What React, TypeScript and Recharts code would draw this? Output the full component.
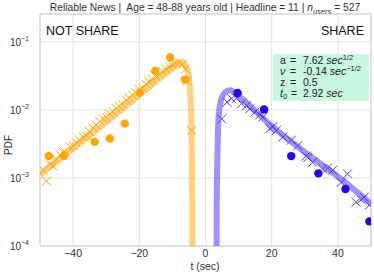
import {
  CartesianGrid,
  ComposedChart,
  Customized,
  Line,
  ReferenceArea,
  Scatter,
  XAxis,
  YAxis,
} from 'recharts'

// readings taken off the reference plot (log-scale PDF vs t in sec)
const notShareCrossT = [
  -49, -48, -47, -46, -45, -44, -43, -42, -41, -40, -39, -38, -37, -36, -35, -34, -33, -32, -31, -30,
  -29, -28, -27, -26, -25, -24, -23, -22, -21, -20, -19, -18, -17, -16, -15, -14, -13, -12, -11, -10,
  -9, -8, -7, -6, -5.5, -4.2,
]
const notShareCrossP = [
  0.0013, 0.0009, 0.0016, 0.0015, 0.0019, 0.0022, 0.0024, 0.0023, 0.0029, 0.003, 0.0033, 0.0036,
  0.004, 0.0042, 0.0048, 0.0055, 0.006, 0.0068, 0.0075, 0.0078, 0.0088, 0.0095, 0.0105, 0.0115,
  0.012, 0.014, 0.015, 0.0165, 0.018, 0.02, 0.021, 0.024, 0.026, 0.028, 0.031, 0.033, 0.037, 0.04,
  0.043, 0.046, 0.049, 0.05, 0.047, 0.04, 0.027, 0.005,
]
const notShareDotT = [-47.3, -42.8, -33.5, -28.9, -24.4, -19.9, -15.2, -10.7, -6.2]
const notShareDotP = [0.0021, 0.0021, 0.0034, 0.0038, 0.0063, 0.018, 0.0376, 0.059, 0.028]
const notShareFitT = [-50, -40, -30, -20, -10, -8, -7, -6, -5.2, -4.6, -4.3, -4.1, -4.0, -3.95]
const notShareFitP = [
  0.00112, 0.0027, 0.0066, 0.0165, 0.041, 0.048, 0.049, 0.045, 0.034, 0.018, 0.008, 0.002, 0.0005,
  0.00005,
]

const shareCrossT = [
  4.9, 6.5, 7.9, 9.4, 10.9, 12.4, 13.4, 14.9, 16.4, 17.4, 19.4, 20.4, 21.4, 23.4, 25.9, 27.9, 30.4,
  30.9, 32.4, 35.4, 36.9, 38.4, 41, 42.9, 45.5, 47, 48, 49.5,
]
const shareCrossP = [
  0.0074, 0.013, 0.0147, 0.015, 0.0124, 0.0115, 0.0104, 0.0093, 0.0085, 0.0079, 0.0053, 0.0057,
  0.005, 0.004, 0.0036, 0.003, 0.0021, 0.002, 0.0017, 0.00136, 0.0014, 0.0013, 0.00086, 0.00115,
  0.00044, 0.00048, 0.00052, 0.0004,
]
const shareDotT = [9.7, 17.7, 25.9, 34.1, 42.3, 49.5]
const shareDotP = [0.0178, 0.0102, 0.0021, 0.00117, 0.00069, 0.00023]
const shareFitT = [3.35, 3.4, 3.6, 3.85, 4.4, 5.3, 6.5, 7.5, 10, 20, 30, 40, 50]
const shareFitP = [
  0.00005, 0.0005, 0.002, 0.0063, 0.012, 0.0165, 0.019, 0.0195, 0.016, 0.0058, 0.0024, 0.00105,
  0.00042,
]

const xTicks = [-40, -20, 0, 20, 40]
const yTicks = [0.0001, 0.001, 0.01, 0.1]

const zip = (t: number[], p: number[]) => t.map((x, i) => ({ x, y: p[i] }))

const FONT = '"Liberation Sans", Arial, sans-serif'
const ORANGE = '#ffa500'
const BLUE = '#2a00f2'
const VIOLET = '#5236ff'

const cross = (color: string) => (props: any) => {
  const { cx, cy } = props
  const s = 4.5
  return (
    <path
      d={`M${cx - s},${cy - s}L${cx + s},${cy + s}M${cx - s},${cy + s}L${cx + s},${cy - s}`}
      stroke={color}
      strokeWidth={1}
      fill="none"
    />
  )
}
const dot = (color: string) => (props: any) => <circle cx={props.cx} cy={props.cy} r={4.2} fill={color} />

const YTick = (props: any) => {
  const { x, y, payload } = props
  const exp = Math.round(Math.log10(payload.value))
  return (
    <text x={x - 3} y={y + 4} textAnchor="end" fontSize={10} fill="#333" fontFamily={FONT}>
      10
      <tspan dy={-5} fontSize={7}>{`\u2212${-exp}`}</tspan>
    </text>
  )
}

const XTick = (props: any) => {
  const { x, y, payload } = props
  const v = payload.value
  return (
    <text x={x} y={y + 3} textAnchor="middle" fontSize={10.5} fill="#333" fontFamily={FONT}>
      {v < 0 ? `\u2212${-v}` : `${v}`}
    </text>
  )
}

const Annotations = () => (
  <g fontFamily={FONT}>
    <text x={205} y={11} textAnchor="middle" fontSize={10.3} fill="#333" style={{ whiteSpace: 'pre' }}>
      {'Reliable News |  Age = 48-88 years old | Headline = 11 | '}
      <tspan fontStyle="italic">n</tspan>
      <tspan fontStyle="italic" fontSize={7.5} dy={2.5}>users</tspan>
      <tspan dy={-2.5}> = 527</tspan>
    </text>
    <text x={46} y={35} fontSize={12.5} fill="#111">NOT SHARE</text>
    <text x={364} y={35} textAnchor="end" fontSize={12.5} fill="#111">SHARE</text>
    <text x={12} y={145} fontSize={10} fill="#333" textAnchor="middle" transform="rotate(-90 12 145)">
      PDF
    </text>
    <text x={205} y={270} fontSize={10.5} fill="#333" textAnchor="middle">t (sec)</text>
    <rect x={273} y={54} width={96} height={47} fill="#c8f7e2" />
    <g fontSize={10.5} fill="#222">
      <text x={280} y={64}>a</text>
      <text x={290} y={64}>=</text>
      <text x={303} y={64}>
        7.62 <tspan fontStyle="italic">sec</tspan>
        <tspan fontSize={7.5} dy={-4}>1/2</tspan>
      </text>
      <text x={280} y={75} fontStyle="italic">ν</text>
      <text x={290} y={75}>=</text>
      <text x={303} y={75}>
        -0.14 <tspan fontStyle="italic">sec</tspan>
        <tspan fontSize={7.5} dy={-4}>−1/2</tspan>
      </text>
      <text x={280} y={86}>z</text>
      <text x={290} y={86}>=</text>
      <text x={303} y={86}>0.5</text>
      <text x={280} y={97} fontStyle="italic">
        t<tspan fontSize={7.5} dy={2} fontStyle="normal">0</tspan>
      </text>
      <text x={291} y={97}>=</text>
      <text x={303} y={97}>
        2.92 <tspan fontStyle="italic">sec</tspan>
      </text>
    </g>
  </g>
)

export default function App() {
  return (
    <div style={{ position: 'fixed', left: 0, top: 0, width: 374, height: 275, background: '#fff' }}>
      <ComposedChart width={374} height={275} margin={{ top: 14, right: 3, bottom: 0, left: 0 }}>
        <CartesianGrid stroke="#e2e2e2" strokeWidth={1} />
        <XAxis
          type="number"
          dataKey="x"
          domain={[-50, 50]}
          ticks={xTicks}
          allowDataOverflow
          height={29}
          axisLine={false}
          tickLine={false}
          tick={<XTick />}
        />
        <YAxis
          type="number"
          dataKey="y"
          scale="log"
          domain={[0.0001, 0.258]}
          ticks={yTicks}
          allowDataOverflow
          width={40}
          axisLine={false}
          tickLine={false}
          tick={<YTick />}
        />
        <ReferenceArea x1={-50} x2={50} y1={0.0001} y2={0.258} fill="none" stroke="#cfcfcf" />
        <Line
          data={zip(notShareFitT, notShareFitP)}
          dataKey="y"
          type="monotone"
          stroke={ORANGE}
          strokeOpacity={0.5}
          strokeWidth={6}
          dot={false}
          isAnimationActive={false}
        />
        <Line
          data={zip(shareFitT, shareFitP)}
          dataKey="y"
          type="monotone"
          stroke={VIOLET}
          strokeOpacity={0.55}
          strokeWidth={6}
          dot={false}
          isAnimationActive={false}
        />
        <Scatter data={zip(notShareCrossT, notShareCrossP)} shape={cross(ORANGE)} isAnimationActive={false} />
        <Scatter data={zip(notShareDotT, notShareDotP)} shape={dot(ORANGE)} isAnimationActive={false} />
        <Scatter data={zip(shareCrossT, shareCrossP)} shape={cross(VIOLET)} isAnimationActive={false} />
        <Scatter data={zip(shareDotT, shareDotP)} shape={dot(BLUE)} isAnimationActive={false} />
        <Customized component={Annotations} />
      </ComposedChart>
    </div>
  )
}
